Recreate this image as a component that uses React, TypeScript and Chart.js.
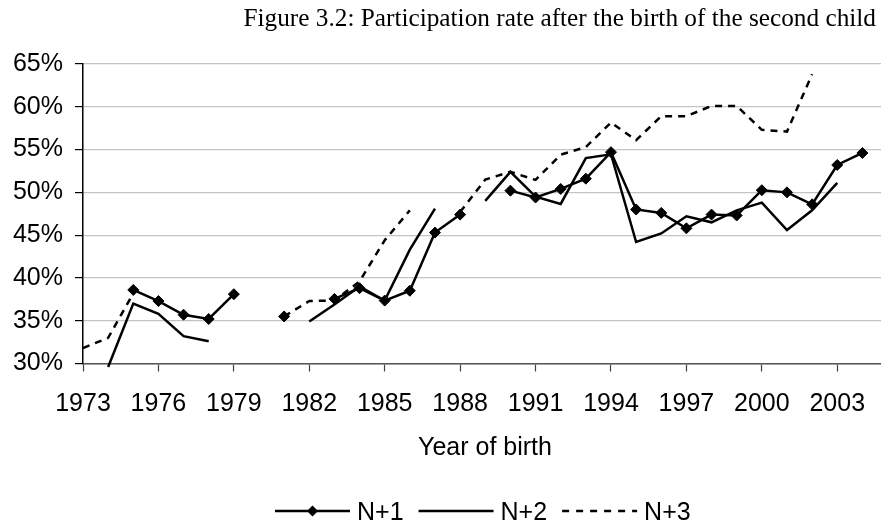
import React, { useEffect, useRef } from 'react';
import { Chart, registerables } from 'chart.js';

Chart.register(...registerables);

// ---------- data ----------
const years = [
  1973, 1974, 1975, 1976, 1977, 1978, 1979, 1980, 1981, 1982, 1983, 1984, 1985, 1986, 1987, 1988,
  1989, 1990, 1991, 1992, 1993, 1994, 1995, 1996, 1997, 1998, 1999, 2000, 2001, 2002, 2003, 2004,
];

// participation rate (%) one year after the birth
const nPlus1: (number | null)[] = [
  null, null, 38.6, 37.3, 35.7, 35.2, 38.1, null, 35.5, null, 37.55, 38.8, 37.35, 38.5, 45.3, 47.4,
  null, 50.2, 49.4, 50.4, 51.6, 54.7, 48.0, 47.6, 45.8, 47.4, 47.3, 50.25, 50.0, 48.6, 53.2, 54.6,
];

// two years after
const nPlus2: (number | null)[] = [
  null, 29.6, 37.0, 35.8, 33.2, 32.6, null, null, null, 34.9, 36.9, 39.0, 37.35, 43.3, 48.1, null,
  49.0, 52.4, 49.5, 48.65, 54.0, 54.45, 44.2, 45.2, 47.2, 46.5, 47.9, 48.8, 45.6, 47.9, 51.1, null,
];

// three years after
const nPlus3: (number | null)[] = [
  31.8, 33.0, 38.2, null, null, null, null, null, 35.5, 37.3, 37.35, 39.6, 44.4, 47.9, null, 47.7,
  51.5, 52.4, 51.45, 54.4, 55.3, 58.15, 56.1, 58.9, 58.9, 60.1, 60.1, 57.3, 57.1, 63.8, null, null,
];

const seriesNames = ['N+1', 'N+2', 'N+3'];
const xTickYears = [1973, 1976, 1979, 1982, 1985, 1988, 1991, 1994, 1997, 2000, 2003];
const yMin = 30;
const yMax = 65;
const yStep = 5;
const chartTitle = 'Figure 3.2: Participation rate after the birth of the second child';
const xAxisTitle = 'Year of birth';

// ---------- helpers ----------
const toPoints = (vals: (number | null)[]) => years.map((x, i) => ({ x, y: vals[i] }));

function drawDiamond(ctx: CanvasRenderingContext2D, x: number, y: number, r: number) {
  ctx.beginPath();
  ctx.moveTo(x - r, y);
  ctx.lineTo(x, y - r);
  ctx.lineTo(x + r, y);
  ctx.lineTo(x, y + r);
  ctx.closePath();
  ctx.fill();
}

const extrasPlugin = {
  id: 'extras',
  afterDraw(chart: any) {
    const ctx: CanvasRenderingContext2D = chart.ctx;
    const area = chart.chartArea;
    ctx.save();
    ctx.fillStyle = '#000';
    ctx.strokeStyle = '#000';

    // title (serif, right part of the figure)
    ctx.font = '20px "Liberation Serif"';
    const w20 = ctx.measureText(chartTitle).width;
    const size = (20 * 633) / w20;
    ctx.font = `${size}px "Liberation Serif"`;
    ctx.textAlign = 'right';
    ctx.textBaseline = 'alphabetic';
    ctx.fillText(chartTitle, 876, 26);

    // x axis title
    ctx.font = '25px "Liberation Sans"';
    ctx.textAlign = 'center';
    ctx.fillText(xAxisTitle, (area.left + area.right) / 2 + 3, 455);

    // legend
    const legendY = 511;
    let x = 275;
    const lineLen = 75;
    ctx.textAlign = 'left';
    seriesNames.forEach((name, i) => {
      ctx.lineWidth = 2.5;
      ctx.setLineDash(i === 2 ? [7, 7] : []);
      ctx.beginPath();
      ctx.moveTo(x, legendY);
      ctx.lineTo(x + lineLen, legendY);
      ctx.stroke();
      ctx.setLineDash([]);
      if (i === 0) drawDiamond(ctx, x + lineLen / 2, legendY, 5.5);
      const tx = x + lineLen + 7;
      ctx.fillText(name, tx, 519.5);
      x = tx + ctx.measureText(name).width + 15;
    });
    ctx.restore();
  },
};

export default function App() {
  const canvasRef = useRef<HTMLCanvasElement | null>(null);

  useEffect(() => {
    document.body.style.margin = '0';
    const canvas = canvasRef.current;
    if (!canvas) return;

    const chart = new Chart(canvas, {
      type: 'line',
      data: {
        datasets: [
          {
            label: seriesNames[0],
            data: toPoints(nPlus1),
            borderColor: '#000',
            backgroundColor: '#000',
            borderWidth: 2.5,
            pointStyle: 'rectRot',
            pointRadius: 5.5,
            pointBorderWidth: 1,
            pointBackgroundColor: '#000',
            pointBorderColor: '#000',
            tension: 0,
            spanGaps: false,
          },
          {
            label: seriesNames[1],
            data: toPoints(nPlus2),
            borderColor: '#000',
            borderWidth: 2.5,
            pointRadius: 0,
            tension: 0,
            spanGaps: false,
            clip: false,
          },
          {
            label: seriesNames[2],
            data: toPoints(nPlus3),
            borderColor: '#000',
            borderWidth: 2.5,
            borderDash: [7, 6],
            pointRadius: 0,
            tension: 0,
            spanGaps: false,
          },
        ],
      },
      options: {
        animation: false,
        responsive: false,
        events: [],
        layout: { autoPadding: false, padding: { top: 64, left: 0, right: 0, bottom: 0 } },
        plugins: {
          legend: { display: false },
          title: { display: false },
          tooltip: { enabled: false },
        },
        scales: {
          x: {
            type: 'linear',
            min: years[0],
            max: 2004.74,
            afterBuildTicks: (scale: any) => {
              scale.ticks = xTickYears.map((v) => ({ value: v }));
            },
            afterFit: (scale: any) => {
              scale.height = 160.5;
              scale.paddingLeft = 0;
              scale.paddingRight = 0;
            },
            ticks: {
              autoSkip: false,
              maxRotation: 0,
              padding: 18,
              color: '#000',
              font: { family: 'Liberation Sans', size: 25 },
              callback: (v: any) => String(v),
            },
            grid: {
              display: true,
              drawOnChartArea: false,
              drawTicks: true,
              tickLength: 8,
              tickColor: '#404040',
              tickWidth: 1.2,
            },
            border: { display: true, color: '#555', width: 1.5 },
          },
          y: {
            type: 'linear',
            min: yMin,
            max: yMax,
            afterFit: (scale: any) => {
              scale.width = 83;
            },
            ticks: {
              stepSize: yStep,
              padding: 12,
              color: '#000',
              font: { family: 'Liberation Sans', size: 25 },
              callback: (v: any) => `${v}%`,
            },
            grid: {
              color: '#c4c4c4',
              lineWidth: 1.2,
              tickLength: 8,
              tickColor: '#000',
              tickWidth: 1.2,
            },
            border: { display: true, color: '#000', width: 1.5 },
          },
        },
      },
      plugins: [extrasPlugin],
    });

    return () => chart.destroy();
  }, []);

  return (
    <div style={{ width: 881, height: 524, background: '#fff' }}>
      <canvas ref={canvasRef} width={881} height={524} style={{ display: 'block' }} />
    </div>
  );
}
